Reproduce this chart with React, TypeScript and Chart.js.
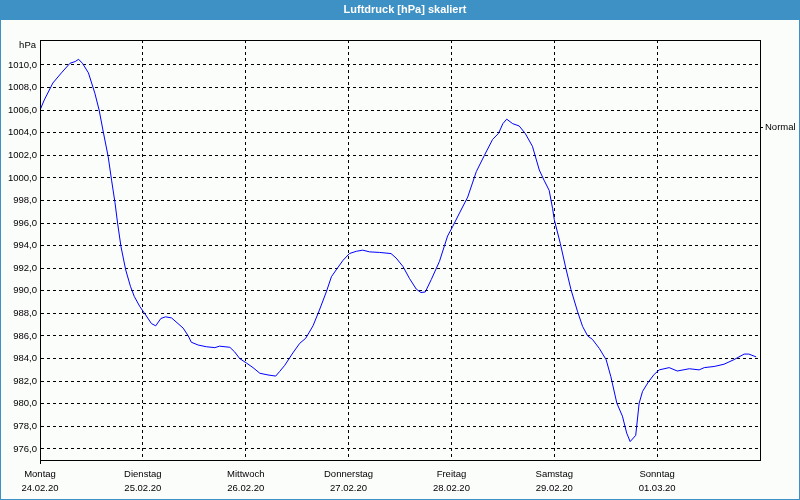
import React, { useEffect, useRef } from 'react';
import { Chart, registerables } from 'chart.js';

Chart.register(...registerables);

const chartTitle = 'Luftdruck [hPa] skaliert';
const unitLabel = 'hPa';
const normalLabel = 'Normal';
const normalValue = 1004.5;

const dayNames = ['Montag', 'Dienstag', 'Mittwoch', 'Donnerstag', 'Freitag', 'Samstag', 'Sonntag'];
const dayDates = ['24.02.20', '25.02.20', '26.02.20', '27.02.20', '28.02.20', '29.02.20', '01.03.20'];
const dayTickHours = [0, 24, 48, 72, 96, 120, 144];

const yTickValues = [976, 978, 980, 982, 984, 986, 988, 990, 992, 994, 996, 998, 1000, 1002, 1004, 1006, 1008, 1010];
const yMin = 975.02;
const yMax = 1012.21;
const xMax = 168;

// hours since Monday 24.02.20 00:00
const hours = [
  0, 1.0, 3.0, 5.0, 7.0, 8.2, 9.0, 9.9, 11.3, 12.8, 13.8, 14.8, 15.9, 16.7, 17.5, 18.1, 18.9, 20.0, 21.1, 22.0,
  23.3, 24.5, 26.0, 27.0, 28.2, 29.3, 30.7, 32.2, 33.4, 34.6, 35.3, 36.9, 38.8, 40.8, 41.9, 44.3, 45.4, 46.6,
  48.2, 49.7, 51.3, 53.2, 55.0, 55.9, 57.1, 59.0, 60.6, 62.0, 63.7, 65.2, 66.8, 68.0, 69.1, 70.7, 72.2, 73.8,
  75.3, 76.9, 79.2, 81.9, 83.1, 84.7, 86.2, 87.8, 88.9, 89.9, 91.3, 93.2, 95.1, 96.3, 97.9, 99.8, 101.8, 103.7,
  105.6, 107.0, 108.0, 108.9, 110.3, 111.8, 113.2, 114.9, 116.5, 117.6, 118.8, 119.6, 120.0, 121.4, 122.7,
  123.9, 125.4, 126.6, 127.8, 128.9, 130.5, 132.1, 133.2, 134.6, 135.9, 136.9, 137.7, 139.0, 139.8, 140.6,
  142.0, 143.3, 144.5, 146.8, 148.7, 151.5, 153.8, 155.0, 157.3, 159.6, 161.9, 164.3, 165.4, 167.1,
];

const pressure = [
  1006.0, 1006.9, 1008.4, 1009.3, 1010.15, 1010.3, 1010.5, 1010.15, 1009.3, 1007.5, 1006.0, 1004.0, 1001.9, 999.8,
  997.8, 996.0, 993.9, 991.85, 990.4, 989.5, 988.6, 987.95, 987.1, 986.9, 987.55, 987.7, 987.6, 987.1, 986.7,
  986.0, 985.45, 985.2, 985.05, 984.97, 985.1, 985.0, 984.6, 984.0, 983.6, 983.2, 982.7, 982.55, 982.45, 982.85,
  983.4, 984.5, 985.35, 985.8, 986.9, 988.3, 989.9, 991.25, 991.85, 992.7, 993.3, 993.5, 993.6, 993.45, 993.4,
  993.3, 992.9, 992.15, 991.1, 990.15, 989.85, 989.9, 991.0, 992.6, 994.85, 995.7, 996.9, 998.3, 1000.55, 1002.0,
  1003.4, 1003.95, 1004.8, 1005.2, 1004.8, 1004.6, 1003.95, 1002.8, 1000.7, 999.8, 998.9, 997.3, 996.3, 994.2,
  992.0, 990.1, 988.2, 986.85, 986.0, 985.7, 984.9, 983.9, 982.4, 980.05, 978.9, 977.4, 976.65, 977.2, 980.05,
  981.1, 981.95, 982.6, 983.0, 983.2, 982.9, 983.1, 983.0, 983.2, 983.3, 983.5, 983.9, 984.4, 984.4, 984.15,
];

const FONT = 'Liberation Sans';
const BLUE = 'rgb(61,145,196)';
const BG = '#fbfdfb';

export default function App() {
  const ref = useRef<HTMLCanvasElement>(null);

  useEffect(() => {
    document.body.style.margin = '0';
    const canvas = ref.current;
    if (!canvas) return;

    const framePlugin = {
      id: 'framePlugin',
      beforeDraw(chart: any) {
        const ctx = chart.ctx;
        ctx.save();
        ctx.fillStyle = BG;
        ctx.fillRect(0, 0, chart.width, chart.height);
        ctx.fillStyle = BLUE;
        ctx.fillRect(0, 0, chart.width, 20);
        ctx.fillStyle = '#ffffff';
        ctx.font = `bold 11px "${FONT}"`;
        ctx.textAlign = 'center';
        ctx.textBaseline = 'middle';
        ctx.fillText(chartTitle, 405, 10);
        ctx.restore();
      },
      afterDraw(chart: any) {
        const ctx = chart.ctx;
        const a = chart.chartArea;
        ctx.save();
        ctx.strokeStyle = '#000';
        ctx.lineWidth = 1;
        ctx.setLineDash([]);
        ctx.strokeRect(Math.round(a.left) + 0.5, Math.round(a.top) + 0.5, Math.round(a.right - a.left), Math.round(a.bottom - a.top));
        ctx.beginPath();
        ctx.moveTo(Math.round(a.left) + 0.5, Math.round(a.bottom));
        ctx.lineTo(Math.round(a.left) + 0.5, Math.round(a.bottom) + 4);
        ctx.stroke();
        ctx.fillStyle = '#000';
        ctx.font = `9.5px "${FONT}"`;
        ctx.textAlign = 'right';
        ctx.textBaseline = 'middle';
        ctx.fillText(unitLabel, 36, 45);
        ctx.strokeStyle = BLUE;
        ctx.strokeRect(0.5, 0.5, chart.width - 1, chart.height - 1);
        ctx.restore();
      },
    };

    const tickFont = { family: FONT, size: 9.5 };

    const chart = new Chart(canvas, {
      type: 'line',
      data: {
        datasets: [
          {
            data: hours.map((h, i) => ({ x: h, y: pressure[i] })),
            borderColor: '#0000ff',
            borderWidth: 1,
            pointRadius: 0,
            tension: 0,
            fill: false,
          },
        ],
      },
      options: {
        responsive: false,
        animation: false,
        events: [],
        layout: { padding: { top: 40, left: 0, right: 0, bottom: 0 } },
        plugins: { legend: { display: false }, title: { display: false }, tooltip: { enabled: false } },
        scales: {
          x: {
            type: 'linear',
            min: 0,
            max: xMax,
            afterBuildTicks: (s: any) => {
              s.ticks = dayTickHours.map((v) => ({ value: v }));
            },
            afterFit: (s: any) => {
              s.height = 40;
            },
            ticks: {
              autoSkip: false,
              maxRotation: 0,
              color: '#000',
              padding: 7,
              font: { ...tickFont, lineHeight: '14px' },
              callback: (_v: any, i: number) => [dayNames[i], dayDates[i]],
            },
            grid: { color: '#000', lineWidth: 1, drawTicks: false },
            border: { display: true, color: '#000', dash: [3, 3] },
          },
          y: {
            type: 'linear',
            min: yMin,
            max: yMax,
            afterBuildTicks: (s: any) => {
              s.ticks = yTickValues.map((v) => ({ value: v }));
            },
            afterFit: (s: any) => {
              s.width = 40;
            },
            ticks: {
              color: '#000',
              padding: 3,
              font: tickFont,
              callback: (v: any) => Number(v).toFixed(1).replace('.', ','),
            },
            grid: { color: '#000', lineWidth: 1, drawTicks: false },
            border: { display: true, color: '#000', dash: [3, 3] },
          },
          y2: {
            type: 'linear',
            position: 'right',
            min: yMin,
            max: yMax,
            afterBuildTicks: (s: any) => {
              s.ticks = [{ value: normalValue }];
            },
            afterFit: (s: any) => {
              s.width = 40;
            },
            ticks: {
              color: '#000',
              padding: 2,
              font: tickFont,
              callback: () => normalLabel,
            },
            grid: { color: '#000', lineWidth: 1, drawOnChartArea: false, drawTicks: true, tickLength: 3 },
            border: { display: true, color: '#000' },
          },
        },
      },
      plugins: [framePlugin],
    } as any);

    return () => chart.destroy();
  }, []);

  return (
    <canvas
      ref={ref}
      width={800}
      height={500}
      style={{ position: 'fixed', left: 0, top: 0, width: 800, height: 500, display: 'block' }}
    />
  );
}
